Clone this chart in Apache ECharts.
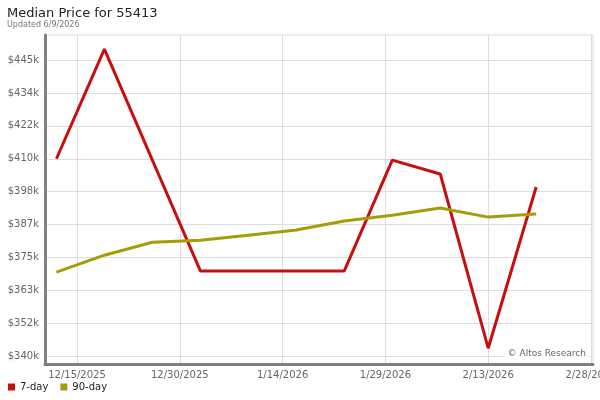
<!DOCTYPE html>
<html>
<head>
<meta charset="utf-8">
<script src="https://cdn.jsdelivr.net/npm/echarts@6/dist/echarts.min.js"></script>
<style>
html,body{margin:0;padding:0;background:#fff;}
#chart{width:600px;height:400px;}
</style>
</head>
<body>
<div id="chart"></div>
<script>
// ---- data ----
const dates = ['2025-12-12','2025-12-19','2025-12-26','2026-01-02','2026-01-09','2026-01-16','2026-01-23','2026-01-30','2026-02-06','2026-02-13','2026-02-20'];
const sevenDay = [410000, 448900, 409500, 370200, 370200, 370200, 370200, 409500, 404600, 342800, 400000];
const ninetyDay = [369800, 375800, 380400, 381100, 382900, 384700, 387900, 390000, 392500, 389300, 390400];
const yTickValues = [340000, 351667, 363333, 375000, 386667, 398333, 410000, 421667, 433333, 445000];
const yTickLabels = ['$340k','$352k','$363k','$375k','$387k','$398k','$410k','$422k','$434k','$445k'];
const xTickDates = ['2025-12-15','2025-12-30','2026-01-14','2026-01-29','2026-02-13','2026-02-28'];
const xTickLabels = ['12/15/2025','12/30/2025','1/14/2026','1/29/2026','2/13/2026','2/28/2026'];

const toTs = s => { const p = s.split('-').map(Number); return Date.UTC(p[0], p[1]-1, p[2]); };
const DAY = 86400000;
const xTickTs = xTickDates.map(toTs);

const chart = echarts.init(document.getElementById('chart'));
const nearestLabel = (v, vals, labels) => {
  let bi = 0, bd = Infinity;
  vals.forEach((t, i) => { const d = Math.abs(t - v); if (d < bd) { bd = d; bi = i; } });
  return labels[bi];
};

chart.setOption({
  animation: false,
  title: [
    { text: 'Median Price for 55413', left: 7, top: 7, padding: 0,
      textStyle: { fontFamily: 'DejaVu Sans', fontSize: 13, fontWeight: 'normal', color: '#222' } },
    { text: 'Updated 6/9/2026', left: 7, top: 21, padding: 0,
      textStyle: { fontFamily: 'DejaVu Sans', fontSize: 8, fontWeight: 'normal', color: '#777' } }
  ],
  legend: {
    left: 3, bottom: 3, itemWidth: 7, itemHeight: 7, itemGap: 12,
    icon: 'rect',
    textStyle: { fontFamily: 'DejaVu Sans', fontSize: 10, color: '#222' },
    data: ['7-day', '90-day']
  },
  grid: { left: 45, right: 7, top: 35, bottom: 36, show: true, borderColor: '#ddd', borderWidth: 1,
    outerBoundsMode: 'none', containLabel: false },
  xAxis: {
    type: 'value',
    min: toTs('2025-12-15') - 4.67 * DAY,
    max: toTs('2026-02-28') + 0.29 * DAY,
    axisLine: { show: true, onZero: false, lineStyle: { color: '#808080', width: 3 } },
    axisTick: { show: false, customValues: xTickTs },
    axisLabel: {
      customValues: xTickTs,
      formatter: v => nearestLabel(v, xTickTs, xTickLabels),
      fontFamily: 'DejaVu Sans', fontSize: 10, color: '#666', margin: 6,
      hideOverlap: false
    },
    splitLine: { show: true, lineStyle: { color: '#ddd', width: 1 } }
  },
  yAxis: {
    type: 'value',
    min: 337200,
    max: 453900,
    axisLine: { show: true, lineStyle: { color: '#808080', width: 3 } },
    axisTick: { show: false, customValues: yTickValues },
    axisLabel: {
      customValues: yTickValues,
      formatter: v => nearestLabel(v, yTickValues, yTickLabels),
      fontFamily: 'DejaVu Sans', fontSize: 10, color: '#666', margin: 6
    },
    splitLine: { show: true, lineStyle: { color: '#ddd', width: 1 } }
  },
  series: [
    { name: '7-day', type: 'line', showSymbol: false, symbol: 'none',
      data: dates.map((d, i) => [toTs(d), sevenDay[i]]),
      itemStyle: { color: '#c80f0f' },
      lineStyle: { color: '#c80f0f', width: 3 } },
    { name: '90-day', type: 'line', showSymbol: false, symbol: 'none',
      data: dates.map((d, i) => [toTs(d), ninetyDay[i]]),
      itemStyle: { color: '#a39d0a' },
      lineStyle: { color: '#a39d0a', width: 3 } }
  ],
  graphic: [
    { type: 'text', right: 12, bottom: 41, z: 100,
      style: { text: '© Altos Research', fontFamily: 'DejaVu Sans', fontSize: 9, fill: '#666',
        backgroundColor: '#fff', padding: [1, 2, 1, 3] } }
  ]
});
</script>
</body>
</html>
